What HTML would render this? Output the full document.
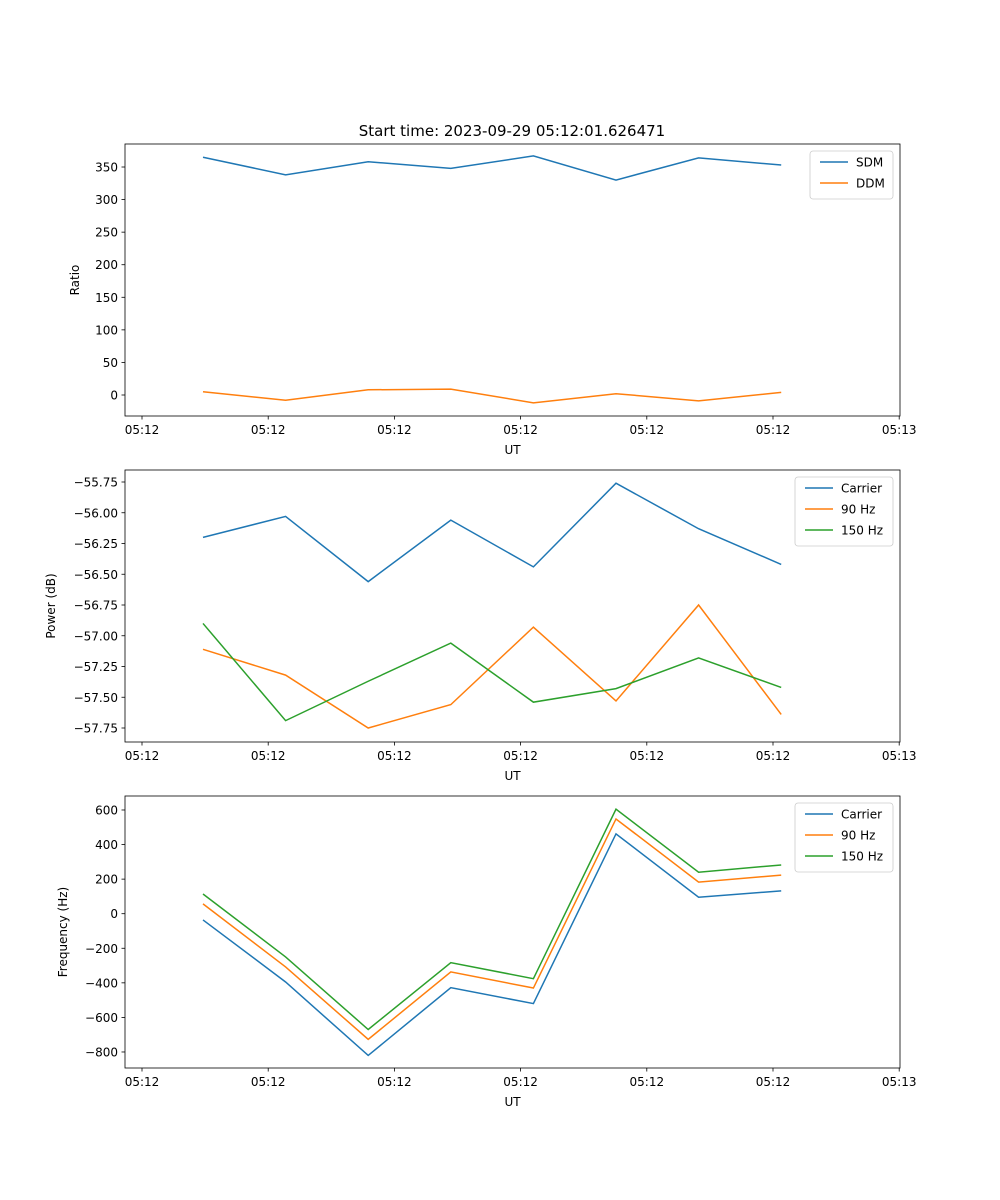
<!DOCTYPE html>
<html><head><meta charset="utf-8"><style>
html,body{margin:0;padding:0;background:#fff;}
svg{display:block;font-family:"DejaVu Sans","Liberation Sans",sans-serif;}
</style></head><body>
<svg id="fig" width="1000" height="1200" viewBox="0 0 1000 1200">
<text x="512" y="136" font-size="15" text-anchor="middle">Start time: 2023-09-29 05:12:01.626471</text>
</svg>
<script>
const xTickLabels = ["05:12","05:12","05:12","05:12","05:12","05:12","05:13"];
const sampleIndex = [0,1,2,3,4,5,6,7];
const sdm = [365,338,358,348,367,330,364,353];
const ddm = [5,-8,8,9,-12,2,-9,4];
const ratioTicks = [0,50,100,150,200,250,300,350];
const pwrCarrier = [-56.20,-56.03,-56.56,-56.06,-56.44,-55.76,-56.13,-56.42];
const pwr90 = [-57.11,-57.32,-57.75,-57.56,-56.93,-57.53,-56.75,-57.64];
const pwr150 = [-56.90,-57.69,-57.37,-57.06,-57.54,-57.43,-57.18,-57.42];
const pwrTicks = [-55.75,-56.00,-56.25,-56.50,-56.75,-57.00,-57.25,-57.50,-57.75];
const frqCarrier = [-36,-395,-820,-428,-520,462,95,132];
const frq90 = [57,-308,-727,-337,-430,548,183,223];
const frq150 = [114,-250,-670,-283,-376,605,240,282];
const frqTicks = [600,400,200,0,-200,-400,-600,-800];

const NS="http://www.w3.org/2000/svg";
const svg=document.getElementById('fig');
const L=125,R=900;
function xs(i){return 203+i*82.6;}
function xt(i){return 142+i*126.2;}
function el(tag,attrs,parent){const e=document.createElementNS(NS,tag);for(const k in attrs)e.setAttribute(k,attrs[k]);(parent||svg).appendChild(e);return e;}
const C=['#1f77b4','#ff7f0e','#2ca02c'];
function fmt(v,d){let s=v.toFixed(d);return s.replace('-','\u2212');}

function panel(name,top,bot,y,ticks,dec,ylabel,series,names,legW,legX){
  const g=el('g',{});
  
  
  ticks.forEach(t=>{
    const yy=y(t);
    const ln=el('line',{x1:L-3.5,x2:L,y1:yy,y2:yy,stroke:'#000','stroke-width':0.8},g);
    
    
    const tx=el('text',{x:L-7,y:yy+4.5,'font-size':12,'text-anchor':'end'},g);
    tx.textContent=fmt(t,dec);
    
    
  });
  xTickLabels.forEach((lab,i)=>{
    const xx=xt(i);
    const ln=el('line',{x1:xx,x2:xx,y1:bot,y2:bot+3.5,stroke:'#000','stroke-width':0.8},g);
    
    
    const tx=el('text',{x:xx,y:bot+18,'font-size':12,'text-anchor':'middle'},g);
    tx.textContent=lab;
    
    
  });
  series.forEach((s,k)=>{
    const p=el('polyline',{points:s.map((v,i)=>xs(sampleIndex[i])+','+y(v)).join(' '),fill:'none',stroke:C[k],'stroke-width':1.5},g);
    
    
  });
  const fr=el('rect',{x:L,y:top,width:R-L,height:bot-top,fill:'none',stroke:'#000','stroke-width':0.8},g);
  
  
  const xl=el('text',{x:(L+R)/2,y:bot+38,'font-size':12,'text-anchor':'middle'},g);
  xl.textContent='UT';
  
  
  const yl=el('text',{x:0,y:0,'font-size':12,'text-anchor':'middle',transform:'translate('+legX+','+((top+bot)/2)+') rotate(-90)'},g);
  yl.textContent=ylabel;
  
  
  const lh=names.length*21+6;
  const lg=el('g',{},g);
  
  
  el('rect',{x:R-7-legW,y:top+7,width:legW,height:lh,rx:3,fill:'#fff','fill-opacity':0.8,stroke:'#ccc','stroke-width':0.8},lg);
  names.forEach((n,k)=>{
    const yy=top+18+k*21;
    el('line',{x1:R-legW+3,x2:R-legW+31,y1:yy,y2:yy,stroke:C[k],'stroke-width':1.5},lg);
    const t=el('text',{x:R-legW+39,y:yy+4.5,'font-size':12},lg);
    t.textContent=n;
    
    
  });
}
panel('ratio',144,416,v=>395-v*0.6514,ratioTicks,0,'Ratio',[sdm,ddm],['SDM','DDM'],83,79);
panel('power',470,742,v=>482+(-55.75-v)*123,pwrTicks,2,'Power (dB)',[pwrCarrier,pwr90,pwr150],['Carrier','90 Hz','150 Hz'],98,55);
panel('frequency',796,1068,v=>913.7-v*0.17285,frqTicks,0,'Frequency (Hz)',[frqCarrier,frq90,frq150],['Carrier','90 Hz','150 Hz'],98,67);
</script>
</body></html>
